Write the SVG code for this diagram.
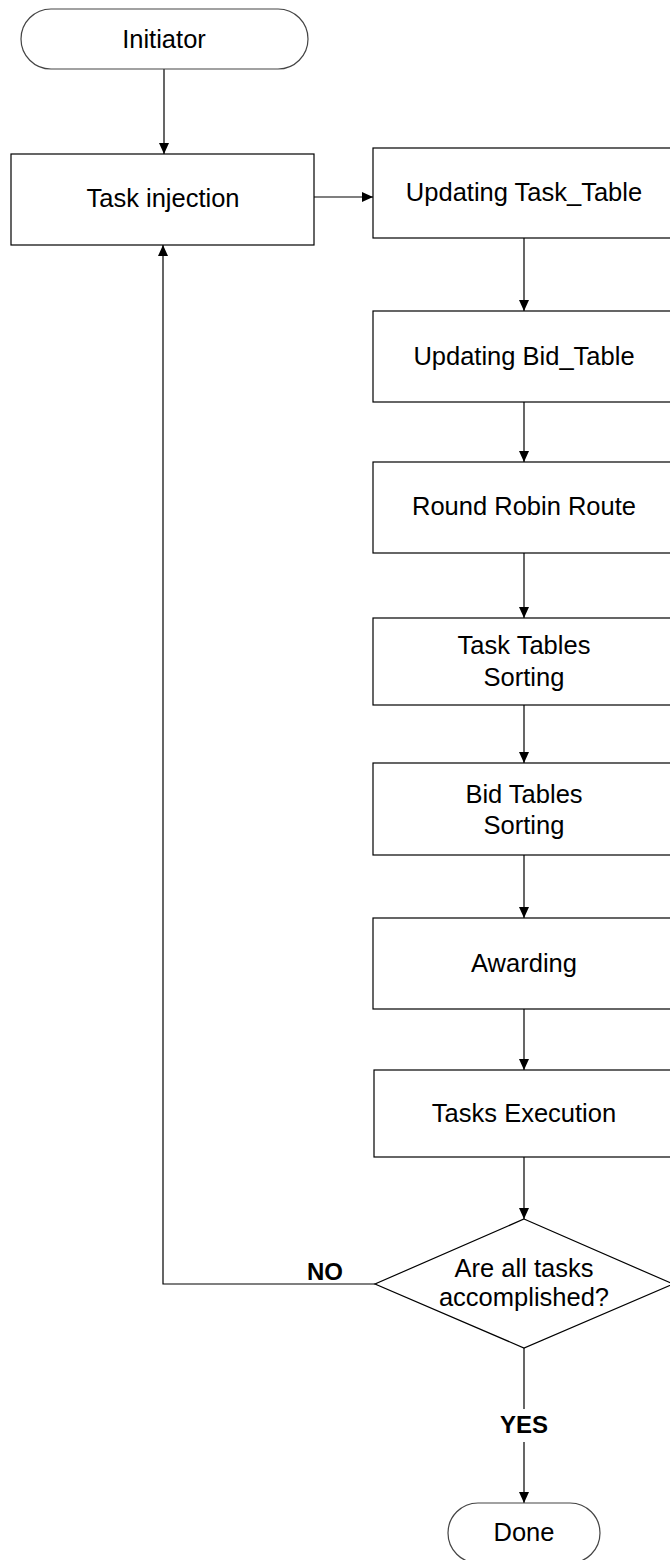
<svg xmlns="http://www.w3.org/2000/svg" width="670" height="1560" viewBox="0 0 670 1560">
  <style>
    .shape { fill: #ffffff; stroke: #000000; stroke-width: 1.2; }
    .term { fill: #ffffff; stroke: #444444; stroke-width: 1.2; }
    .lbl { font-family: "Liberation Sans", Arial, sans-serif; font-size: 25.5px; fill: #000000; text-anchor: middle; }
    .bold { font-family: "Liberation Sans", Arial, sans-serif; font-size: 24px; font-weight: bold; fill: #000000; text-anchor: middle; }
    .conn { fill: none; stroke: #000000; stroke-width: 1.2; }
  </style>
  <defs>
    <marker id="arrow" viewBox="0 0 11 10" refX="11" refY="5" markerWidth="11" markerHeight="10" markerUnits="userSpaceOnUse" orient="auto">
      <path d="M0,0 L11,5 L0,10 Z" fill="#000000"/>
    </marker>
  </defs>

  <rect width="670" height="1560" fill="#ffffff"/>

  <g id="connectors">
    <line class="conn" x1="164" y1="69" x2="164" y2="154" marker-end="url(#arrow)"/>
    <line class="conn" x1="314" y1="197" x2="373" y2="197" marker-end="url(#arrow)"/>
    <line class="conn" x1="524" y1="238" x2="524" y2="311" marker-end="url(#arrow)"/>
    <line class="conn" x1="524" y1="402" x2="524" y2="462" marker-end="url(#arrow)"/>
    <line class="conn" x1="524" y1="553" x2="524" y2="618" marker-end="url(#arrow)"/>
    <line class="conn" x1="524" y1="705" x2="524" y2="763" marker-end="url(#arrow)"/>
    <line class="conn" x1="524" y1="855" x2="524" y2="918" marker-end="url(#arrow)"/>
    <line class="conn" x1="524" y1="1009" x2="524" y2="1070" marker-end="url(#arrow)"/>
    <line class="conn" x1="524" y1="1157" x2="524" y2="1219" marker-end="url(#arrow)"/>
    <polyline class="conn" points="375,1284 163,1284 163,245" marker-end="url(#arrow)"/>
    <line class="conn" x1="524" y1="1348" x2="524" y2="1409"/>
    <line class="conn" x1="524" y1="1442" x2="524" y2="1503" marker-end="url(#arrow)"/>
    <text class="bold" x="325" y="1280">NO</text>
    <text class="bold" x="524" y="1433">YES</text>
  </g>

  <g id="initiator">
    <rect class="term" x="21" y="9" width="287" height="60" rx="30" ry="30"/>
    <text class="lbl" x="164" y="48">Initiator</text>
  </g>

  <g id="task-injection">
    <rect class="shape" x="11" y="154" width="303" height="91"/>
    <text class="lbl" x="163" y="207">Task injection</text>
  </g>

  <g id="updating-task-table">
    <rect class="shape" x="373" y="148" width="302" height="90"/>
    <text class="lbl" x="524" y="201">Updating Task_Table</text>
  </g>

  <g id="updating-bid-table">
    <rect class="shape" x="373" y="311" width="302" height="91"/>
    <text class="lbl" x="524" y="365">Updating Bid_Table</text>
  </g>

  <g id="round-robin-route">
    <rect class="shape" x="373" y="462" width="302" height="91"/>
    <text class="lbl" x="524" y="515">Round Robin Route</text>
  </g>

  <g id="task-tables-sorting">
    <rect class="shape" x="373" y="618" width="302" height="87"/>
    <text class="lbl" x="524" y="654">Task Tables</text>
    <text class="lbl" x="524" y="686">Sorting</text>
  </g>

  <g id="bid-tables-sorting">
    <rect class="shape" x="373" y="763" width="302" height="92"/>
    <text class="lbl" x="524" y="803">Bid Tables</text>
    <text class="lbl" x="524" y="834">Sorting</text>
  </g>

  <g id="awarding">
    <rect class="shape" x="373" y="918" width="302" height="91"/>
    <text class="lbl" x="524" y="972">Awarding</text>
  </g>

  <g id="tasks-execution">
    <rect class="shape" x="374" y="1070" width="302" height="87"/>
    <text class="lbl" x="524" y="1122">Tasks Execution</text>
  </g>

  <g id="decision">
    <polygon class="shape" points="524,1219 673,1284 524,1348 375,1284"/>
    <text class="lbl" x="524" y="1277">Are all tasks</text>
    <text class="lbl" x="524" y="1306">accomplished?</text>
  </g>

  <g id="done">
    <rect class="term" x="448" y="1503" width="152" height="60" rx="30" ry="30"/>
    <text class="lbl" x="524" y="1541">Done</text>
  </g>
</svg>
